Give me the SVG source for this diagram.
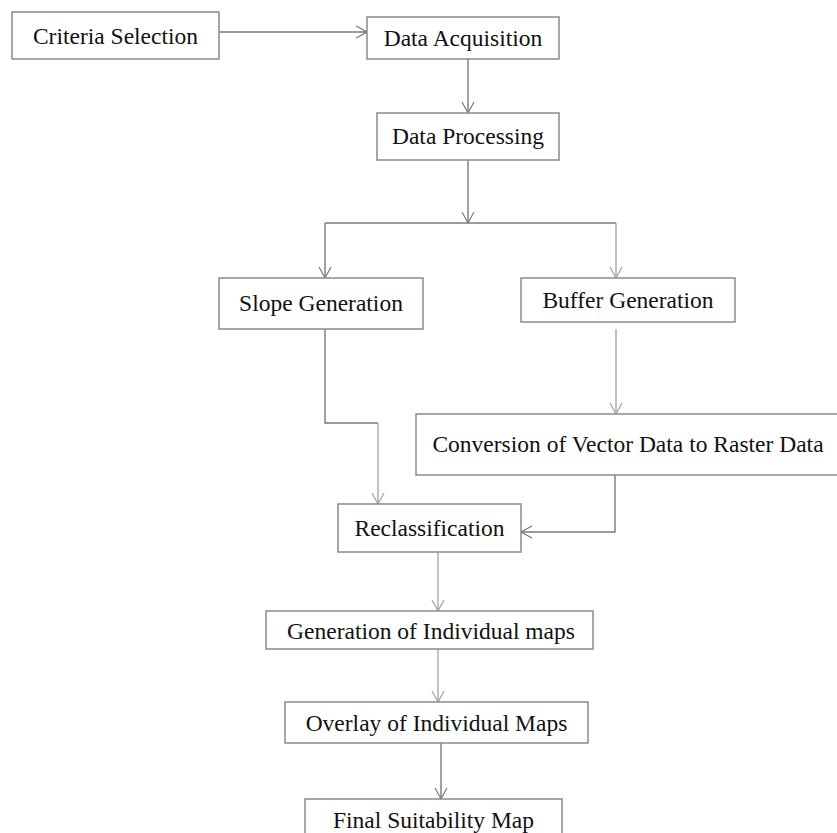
<svg xmlns="http://www.w3.org/2000/svg" width="837" height="833" viewBox="0 0 837 833">
<style>
.box{fill:#fff;stroke:#8a8a8a;stroke-width:1.5}
.lbl{font-family:"Liberation Serif","Times New Roman",serif;font-size:23.5px;fill:#111;text-anchor:middle}
.c{fill:none;stroke:#7a7a7a;stroke-width:1.4}
.cl{fill:none;stroke:#a8a8a8;stroke-width:1.4}
</style>
<defs>
<marker id="ah" viewBox="-12 -7 13 14" refX="0" refY="0" markerWidth="13" markerHeight="14" markerUnits="userSpaceOnUse" orient="auto">
<path d="M-11,-6 L0,0 L-11,6" fill="none" stroke="#7a7a7a" stroke-width="1.2"/>
</marker>
<marker id="ahl" viewBox="-12 -7 13 14" refX="0" refY="0" markerWidth="13" markerHeight="14" markerUnits="userSpaceOnUse" orient="auto">
<path d="M-11,-6 L0,0 L-11,6" fill="none" stroke="#a0a0a0" stroke-width="1.2"/>
</marker>
</defs>
<rect width="837" height="833" fill="#fff"/>
<g id="connectors">
<path class="c" d="M219,32 H367" marker-end="url(#ah)"/>
<path class="c" d="M468,59 V113" marker-end="url(#ah)"/>
<path class="c" d="M468,160 V223" marker-end="url(#ah)"/>
<path class="c" d="M325,223 H616"/>
<path class="c" d="M325,223 V278" marker-end="url(#ah)"/>
<path class="cl" d="M616,223 V278" marker-end="url(#ahl)"/>
<path class="c" d="M325,329 V423 H378"/>
<path class="cl" d="M378,423 V504" marker-end="url(#ahl)"/>
<path class="cl" d="M616,329 V414" marker-end="url(#ahl)"/>
<path class="c" d="M615,475 V532 H521" marker-end="url(#ah)"/>
<path class="cl" d="M438,552 V611" marker-end="url(#ahl)"/>
<path class="cl" d="M438,649 V702" marker-end="url(#ahl)"/>
<path class="c" d="M441,743 V799" marker-end="url(#ah)"/>
</g>
<g id="criteria"><rect class="box" x="12" y="12" width="207" height="47"/><text class="lbl" x="115.5" y="43.5">Criteria Selection</text></g>
<g id="acquisition"><rect class="box" x="367" y="17" width="192" height="42"/><text class="lbl" x="463" y="46">Data Acquisition</text></g>
<g id="processing"><rect class="box" x="377" y="113" width="182" height="47"/><text class="lbl" x="468" y="144">Data Processing</text></g>
<g id="slope"><rect class="box" x="219" y="278" width="204" height="51"/><text class="lbl" x="321" y="311">Slope Generation</text></g>
<g id="buffer"><rect class="box" x="521" y="278" width="214" height="44"/><text class="lbl" x="628" y="308">Buffer Generation</text></g>
<g id="conversion"><rect class="box" x="416" y="414" width="426" height="61"/><text class="lbl" x="628" y="452">Conversion of Vector Data to Raster Data</text></g>
<g id="reclassification"><rect class="box" x="338" y="504" width="183" height="48"/><text class="lbl" x="429.5" y="536">Reclassification</text></g>
<g id="individual"><rect class="box" x="266" y="611" width="327" height="38"/><text class="lbl" x="431" y="639">Generation of Individual maps</text></g>
<g id="overlay"><rect class="box" x="285" y="702" width="303" height="41"/><text class="lbl" x="436.5" y="730.5">Overlay of Individual Maps</text></g>
<g id="final"><rect class="box" x="305" y="799" width="257" height="46"/><text class="lbl" x="433.5" y="828">Final Suitability Map</text></g>
</svg>
